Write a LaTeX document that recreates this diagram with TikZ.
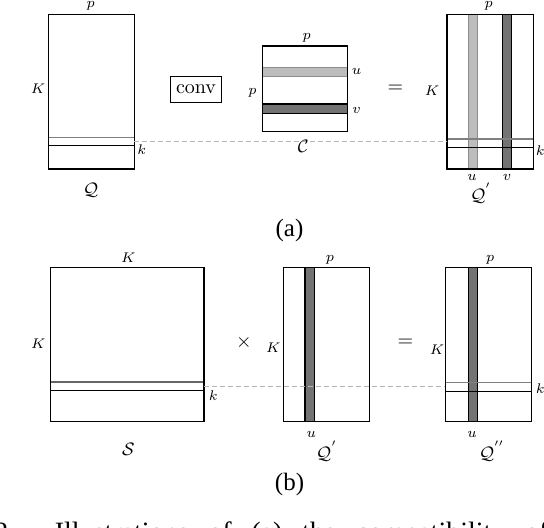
\documentclass[tikz,border=0pt]{standalone}
\usepackage{fontspec}
\newfontfamily\capfont{Liberation Serif}
\begin{document}
\begin{tikzpicture}[x=0.5pt,y=-0.5pt,
  mat/.style={draw=black, line width=0.75pt},
  lab/.style={inner sep=0pt, font=\fontsize{7.5}{9}\selectfont},
  mname/.style={inner sep=0pt, font=\fontsize{9}{11}\selectfont},
  light/.style={fill=black!26, draw=black!45, line width=0.4pt},
  dark/.style={fill=black!55, draw=black, line width=0.6pt},
  link/.style={draw=black!28, line width=0.5pt, dash pattern=on 2.5pt off 1.5pt},
  bandtop/.style={draw=black!50, line width=0.6pt},
  bandthick/.style={draw=black!60, line width=1pt},
  bandbot/.style={draw=black, line width=0.5pt},
  op/.style={inner sep=0pt, font=\fontsize{10}{12}\selectfont},
  captext/.style={inner sep=0pt, font=\capfont\fontsize{12.5}{15}\selectfont},
]
\useasboundingbox (0,0) rectangle (544,528);
\clip (0,0) rectangle (544,528);

% ---------------- (a) ----------------
% Q
\coordinate (Qtl) at (48.3,14.3);
\coordinate (Qbr) at (134.3,169);
\coordinate (Qbt1) at (48.3,137.3);  \coordinate (Qbt2) at (134.3,137.3);
\coordinate (Qbb1) at (48.3,146);    \coordinate (Qbb2) at (134.3,146);
\coordinate (Qk) at (134.3,141.7);
\draw[bandtop] (Qbt1) -- (Qbt2);
\draw[bandbot] (Qbb1) -- (Qbb2);
\draw[mat] (Qtl) rectangle (Qbr);
\node[lab] (Qp) at (90.7,5.5) {$p$};
\node[lab] (QK) at (38,89) {$K$};
\node[lab] (Qkl) at (141.7,150) {$k$};
\node[mname] (Qn) at (90.7,190.7) {$\mathcal{Q}$};

% conv
\node[draw=black, line width=0.5pt, minimum width=25.7pt, minimum height=13.2pt, inner sep=1pt, font=\fontsize{10}{12}\selectfont] (conv) at (196,89.5) {conv};

% C
\coordinate (Ctl) at (262.3,46);
\coordinate (Cbr) at (347.7,131.7);
\coordinate (Cu1) at (262.3,67.7); \coordinate (Cu2) at (347.7,76.3);
\coordinate (Cv1) at (262.3,104);  \coordinate (Cv2) at (347.7,113.3);
\draw[light] (Cu1) rectangle (Cu2);
\draw[dark] (Cv1) rectangle (Cv2);
\draw[mat] (Ctl) rectangle (Cbr);
\node[lab] (Cp) at (306.7,38.3) {$p$};
\node[lab] (Cpl) at (252.5,93) {$p$};
\node[lab] (Cu) at (356.7,71.7) {$u$};
\node[lab] (Cv) at (356.7,110) {$v$};

% Q'
\coordinate (Ptl) at (447,14.3);
\coordinate (Pbr) at (533.5,169);
\coordinate (Pu1) at (468.2,14.3); \coordinate (Pu2) at (477.2,169);
\coordinate (Pv1) at (502.5,14.3); \coordinate (Pv2) at (511.2,169);
\coordinate (Pbt1) at (447,139);   \coordinate (Pbt2) at (533.5,139);
\coordinate (Pbb1) at (447,147.3); \coordinate (Pbb2) at (533.5,147.3);
\coordinate (Pk) at (447,141.7);
\draw[light] (Pu1) rectangle (Pu2);
\draw[dark] (Pv1) rectangle (Pv2);
\draw[bandtop] (Pbt1) -- (Pbt2);
\draw[bandbot] (Pbb1) -- (Pbb2);
\draw[mat] (Ptl) rectangle (Pbr);
\node[lab] (Pp) at (488.7,5.5) {$p$};
\node[lab] (PK) at (432,90.7) {$K$};
\node[lab] (Pkl) at (540.3,150.7) {$k$};
\node[lab] (Pu) at (472,177.5) {$u$};
\node[lab] (Pv) at (507,177.5) {$v$};
\node[mname] (Pn) at (481,193) {$\mathcal{Q}^{'}$};

\node[op] (eqa) at (395.3,89.3) {$=$};

\draw[link] (Qk) -- (Pk);
\node[mname] (Cn) at (303.3,146) {$\mathcal{C}$};

\node[captext] (capa) at (289.5,230) {(a)};

% ---------------- (b) ----------------
% S
\coordinate (Stl) at (50.7,267.7);
\coordinate (Sbr) at (204,421.3);
\coordinate (Sbt1) at (50.7,382);   \coordinate (Sbt2) at (204,382);
\coordinate (Sbb1) at (50.7,390.3); \coordinate (Sbb2) at (204,390.3);
\coordinate (Sk) at (204,386);
\draw[bandthick] (Sbt1) -- (Sbt2);
\draw[bandbot] (Sbb1) -- (Sbb2);
\draw[mat] (Stl) rectangle (Sbr);
\node[lab] (SKt) at (128.3,257.3) {$K$};
\node[lab] (SKl) at (38.3,343.3) {$K$};
\node[lab] (Skl) at (213.3,395.7) {$k$};
\node[mname] (Sn) at (128.3,449) {$\mathcal{S}$};

\node[op] (times) at (244,342.7) {$\times$};

% Q' (b)
\coordinate (Btl) at (283.3,267.7);
\coordinate (Bbr) at (369.3,421.7);
\coordinate (Bu1) at (305,267.7); \coordinate (Bu2) at (314.3,421.7);
\draw[dark] (Bu1) rectangle (Bu2);
\draw[mat] (Btl) rectangle (Bbr);
\node[lab] (Bp) at (330,260) {$p$};
\node[lab] (BK) at (273.3,347.3) {$K$};
\node[lab] (Bu) at (311.3,434) {$u$};
\node[mname] (Bn) at (327,451) {$\mathcal{Q}^{'}$};

\node[op] (eqb) at (405.3,343.3) {$=$};

% Q''
\coordinate (Dtl) at (445.3,267.7);
\coordinate (Dbr) at (531.3,421.7);
\coordinate (Du1) at (468.7,267.7); \coordinate (Du2) at (477.3,421.7);
\coordinate (Dbt1) at (445.3,382.7); \coordinate (Dbt2) at (531.3,382.7);
\coordinate (Dbb1) at (445.3,391.3); \coordinate (Dbb2) at (531.3,391.3);
\coordinate (Dk) at (445.3,386);
\draw[dark] (Du1) rectangle (Du2);
\draw[bandtop] (Dbt1) -- (Dbt2);
\draw[bandbot] (Dbb1) -- (Dbb2);
\draw[mat] (Dtl) rectangle (Dbr);
\node[lab] (Dp) at (490.3,260) {$p$};
\node[lab] (DK) at (437,349.3) {$K$};
\node[lab] (Dkl) at (540.3,388.3) {$k$};
\node[lab] (Du) at (472,434) {$u$};
\node[mname] (Dn) at (492,451) {$\mathcal{Q}^{''}$};

\draw[link] (Sk) -- (Dk);

\node[captext] (capb) at (289.5,484) {(b)};

% cut-off figure caption
\node[captext, anchor=base west, font=\capfont\fontsize{14}{16}\selectfont] (figcap) at (-6,541)
  {\makebox[277pt][s]{2.\ \ Illustrations of (a) the compatibility of}};
\end{tikzpicture}
\end{document}
